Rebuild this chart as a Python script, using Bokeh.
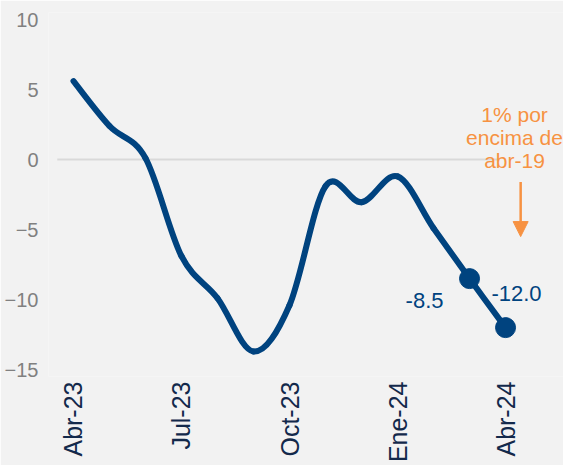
from bokeh.plotting import figure
from bokeh.models import Range1d, FixedTicker, Label, Arrow, NormalHead, ColumnDataSource
from bokeh.core.properties import value
from bokeh.embed import file_html
from bokeh.resources import INLINE

# ---- data ----
months = ["Abr-23", "May-23", "Jun-23", "Jul-23", "Ago-23", "Sep-23", "Oct-23",
          "Nov-23", "Dic-23", "Ene-24", "Feb-24", "Mar-24", "Abr-24"]
values = [5.6, 2.4, 0.1, -6.9, -9.9, -13.7, -10.4, -1.9, -3.05, -1.2, -4.9, -8.5, -12.0]
tick_labels = ["Abr-23", "Jul-23", "Oct-23", "Ene-24", "Abr-24"]
y_ticks = [-15, -10, -5, 0, 5, 10]
note_text = "1% por\nencima de\nabr-19"

xs = list(range(len(months)))
tick_pos = [months.index(m) for m in tick_labels]

NAVY = "#00437f"
ORANGE = "#f79242"
BG = "#f2f2f2"
FONT = "Liberation Sans"

p = figure(width=563, height=465,
           x_range=Range1d(-0.694, 13.61), y_range=Range1d(-15.49, 10.50),
           output_backend="svg", toolbar_location=None,
           min_border_left=48, min_border_right=0, min_border_top=12, min_border_bottom=86)
p.background_fill_color = BG
p.border_fill_color = BG
p.outline_line_color = None
p.grid.grid_line_color = None

# axes
p.xaxis.ticker = FixedTicker(ticks=tick_pos)
p.xaxis.major_label_overrides = {pos: lab for pos, lab in zip(tick_pos, tick_labels)}
p.xaxis.major_label_orientation = 1.5707963
p.xaxis.major_label_text_font = FONT
p.xaxis.major_label_text_font_size = "25px"
p.xaxis.major_label_text_color = "#13294b"
p.xaxis.major_label_standoff = 5
p.yaxis.ticker = FixedTicker(ticks=y_ticks)
p.yaxis.major_label_text_font = FONT
p.yaxis.major_label_text_font_size = "20px"
p.yaxis.major_label_text_color = "#808080"
p.yaxis.major_label_standoff = 10
for ax in (p.xaxis, p.yaxis):
    ax.axis_line_color = None
    ax.major_tick_line_color = None
    ax.minor_tick_line_color = None
    ax.major_tick_out = 0
    ax.major_tick_in = 0

# zero line
p.segment(x0=[xs[0] - 0.45], y0=[0], x1=[xs[-1] - 0.22], y1=[0],
          line_color="#d9d9d9", line_width=2)

# smoothed line (Catmull-Rom -> cubic Bezier, like Excel's smoothed line)
n = len(xs)
x0s, y0s, x1s, y1s, c0x, c0y, c1x, c1y = [], [], [], [], [], [], [], []
for i in range(n - 1):
    pm = max(i - 1, 0)
    pp = min(i + 2, n - 1)
    x0s.append(xs[i]); y0s.append(values[i])
    x1s.append(xs[i + 1]); y1s.append(values[i + 1])
    c0x.append(xs[i] + (xs[i + 1] - xs[pm]) / 6.0)
    c0y.append(values[i] + (values[i + 1] - values[pm]) / 6.0)
    c1x.append(xs[i + 1] - (xs[pp] - xs[i]) / 6.0)
    c1y.append(values[i + 1] - (values[pp] - values[i]) / 6.0)
src = ColumnDataSource(dict(x0=x0s, y0=y0s, x1=x1s, y1=y1s, cx0=c0x, cy0=c0y, cx1=c1x, cy1=c1y))
p.bezier(x0="x0", y0="y0", x1="x1", y1="y1", cx0="cx0", cy0="cy0", cx1="cx1", cy1="cy1",
         source=src, line_color=NAVY, line_width=6, line_cap="round")

# end markers
p.scatter(x=xs[-2:], y=values[-2:], size=20, fill_color=NAVY, line_color=NAVY)

# data labels
p.text(x=[xs[-2]], y=[values[-2]], text=[f"{values[-2]:.1f}"], text_font=value(FONT),
       text_font_size="22px", text_color=NAVY, text_align="center", text_baseline="middle",
       x_offset=-45, y_offset=22)
p.text(x=[xs[-1]], y=[values[-1]], text=[f"{values[-1]:.1f}"], text_font=value(FONT),
       text_font_size="22px", text_color=NAVY, text_align="center", text_baseline="middle",
       x_offset=11, y_offset=-34)

# annotation
note = Label(x=12.25, y=1.6, text=note_text, text_font=FONT, text_font_size="21px",
             text_color=ORANGE, text_align="center", text_baseline="middle",
             text_line_height=1.0)
p.add_layout(note)
p.add_layout(Arrow(end=NormalHead(size=15, fill_color=ORANGE, line_color=ORANGE),
                   x_start=12.42, y_start=-1.61, x_end=12.42, y_end=-5.5,
                   line_color=ORANGE, line_width=2.5))

open("out.html", "w").write(file_html(p, INLINE))
